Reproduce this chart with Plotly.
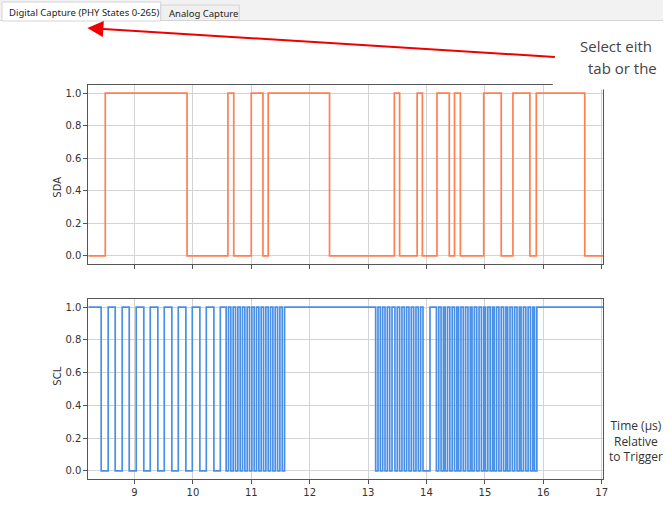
import plotly.graph_objects as go

W, H = 668, 525

# ---------------- data ----------------
X_RANGE = [8.21, 17.03]
X_TICKS = [9, 10, 11, 12, 13, 14, 15, 16, 17]
Y_TICKS = [0.0, 0.2, 0.4, 0.6, 0.8, 1.0]

# SDA: transition times (µs) and level after each transition
SDA_T = [8.21, 8.50, 9.90, 10.60, 10.70, 11.00, 11.20, 11.29, 12.34, 13.45, 13.54,
         13.84, 13.93, 14.18, 14.39, 14.48, 14.58, 14.98, 15.28, 15.48, 15.77,
         15.88, 16.71, 17.03]
SDA_V = [0, 1, 0, 1, 0, 1, 0, 1, 0, 1, 0, 1, 0, 1, 0, 1, 0, 1, 0, 1, 0, 1, 0, 0]

# SCL: low pulses (start, end) in µs
SCL_LOW_START = [8.43, 8.67, 8.91, 9.16, 9.40, 9.64, 9.88, 10.12, 10.36,
                 10.57, 10.65, 10.73, 10.81, 10.89, 10.97, 11.05, 11.13, 11.21, 11.29, 11.37, 11.45, 11.53,
                 13.13, 13.21, 13.29, 13.37, 13.46, 13.54, 13.62, 13.70, 13.78, 13.86, 13.94,
                 14.17, 14.25, 14.32, 14.40, 14.48, 14.55, 14.63, 14.71, 14.78, 14.86, 14.94, 15.01,
                 15.09, 15.16, 15.24, 15.32, 15.39, 15.47, 15.55, 15.62, 15.70, 15.78, 15.85]
SCL_LOW_END = [8.55, 8.79, 9.03, 9.27, 9.51, 9.75, 9.99, 10.23, 10.47,
               10.61, 10.69, 10.77, 10.85, 10.93, 11.01, 11.09, 11.17, 11.25, 11.33, 11.41, 11.49, 11.57,
               13.17, 13.25, 13.33, 13.41, 13.50, 13.58, 13.66, 13.74, 13.82, 13.90, 14.06,
               14.21, 14.29, 14.36, 14.44, 14.52, 14.59, 14.67, 14.75, 14.82, 14.90, 14.98, 15.05,
               15.13, 15.20, 15.28, 15.36, 15.43, 15.51, 15.59, 15.66, 15.74, 15.82, 15.89]

scl_x, scl_y = [X_RANGE[0]], [1]
for s, e in zip(SCL_LOW_START, SCL_LOW_END):
    scl_x += [s, e]
    scl_y += [0, 1]
scl_x.append(X_RANGE[1])
scl_y.append(1)

SDA_COLOR = "#ff7f50"
SCL_COLOR = "#4a8fe6"

# ---------------- helpers (pixel -> paper) ----------------
def px(x):
    return x / W

def py(y):
    return 1 - y / H

fig = go.Figure()
fig.add_trace(go.Scatter(x=SDA_T, y=SDA_V, mode="lines", line_shape="hv",
                         line=dict(color=SDA_COLOR, width=1.7), xaxis="x", yaxis="y",
                         showlegend=False, hoverinfo="skip"))
fig.add_trace(go.Scatter(x=scl_x, y=scl_y, mode="lines", line_shape="hv",
                         line=dict(color=SCL_COLOR, width=1.7), xaxis="x2", yaxis="y2",
                         showlegend=False, hoverinfo="skip"))

tickfont = dict(family="DejaVu Sans", size=10, color="#333333")
axis_common = dict(showline=True, mirror=True, linecolor="#555555", linewidth=1,
                   showgrid=True, gridcolor="#d3d3d3", gridwidth=1,
                   ticks="outside", ticklen=4, tickcolor="#555555", tickwidth=1,
                   zeroline=False, tickfont=tickfont)

xdom = [px(89), px(608)]
fig.update_layout(
    width=W, height=H,
    margin=dict(l=0, r=0, t=0, b=0),
    paper_bgcolor="white", plot_bgcolor="white",
    xaxis=dict(domain=xdom, range=X_RANGE, tickvals=X_TICKS, showticklabels=False,
               anchor="y", **axis_common),
    yaxis=dict(domain=[py(264), py(85)], range=[-0.05, 1.05], tickvals=Y_TICKS,
               tickformat=".1f", anchor="x", **axis_common),
    xaxis2=dict(domain=xdom, range=X_RANGE, tickvals=X_TICKS, matches="x",
                anchor="y2", **axis_common),
    yaxis2=dict(domain=[py(479), py(299)], range=[-0.05, 1.05], tickvals=Y_TICKS,
                tickformat=".1f", anchor="x2", **axis_common),
)

shapes = [
    # top tab strip
    dict(type="rect", xref="paper", yref="paper", x0=0, x1=1, y0=py(21), y1=1,
         fillcolor="#f2f2f2", line=dict(width=0), layer="below"),
    dict(type="line", xref="paper", yref="paper", x0=0, x1=1, y0=py(20.5), y1=py(20.5),
         line=dict(color="#d4d4d4", width=1), layer="below"),
    dict(type="rect", xref="paper", yref="paper", x0=px(2), x1=px(162), y0=py(21), y1=py(2),
         fillcolor="#ffffff", line=dict(color="#d4d4d4", width=1), layer="below"),
    dict(type="rect", xref="paper", yref="paper", x0=px(162), x1=px(241), y0=py(20.5), y1=py(5),
         fillcolor="#f0f0f0", line=dict(color="#d4d4d4", width=1), layer="below"),
    # white callout box covering plot corner
    dict(type="rect", xref="paper", yref="paper", x0=px(557), x1=1, y0=py(89.5), y1=py(22),
         fillcolor="#ffffff", line=dict(width=0), layer="above"),
]
fig.update_layout(shapes=shapes)

ann = [
    dict(text="Digital Capture (PHY States 0-265)", x=px(7), y=py(12), xref="paper", yref="paper",
         xanchor="left", yanchor="middle", showarrow=False,
         font=dict(family="Noto Sans", size=9.5, color="#222222")),
    dict(text="Analog Capture", x=px(168), y=py(13), xref="paper", yref="paper",
         xanchor="left", yanchor="middle", showarrow=False,
         font=dict(family="Noto Sans", size=9.5, color="#222222")),
    dict(text="Select eith", x=px(582), y=py(46), xref="paper", yref="paper",
         xanchor="left", yanchor="middle", showarrow=False,
         font=dict(family="Open Sans", size=15, color="#444444")),
    dict(text="tab or the", x=px(590), y=py(68), xref="paper", yref="paper",
         xanchor="left", yanchor="middle", showarrow=False,
         font=dict(family="Open Sans", size=15, color="#444444")),
    dict(text="", x=px(88), y=py(28), xref="paper", yref="paper",
         ax=557 - 88, ay=57 - 28, axref="pixel", ayref="pixel",
         showarrow=True, arrowhead=2, arrowsize=1.6, arrowwidth=2, arrowcolor="#ee0000"),
    dict(text="SDA", x=px(50), y=py(175), xref="paper", yref="paper", textangle=-90,
         showarrow=False, font=dict(family="DejaVu Sans", size=10, color="#333333")),
    dict(text="SCL", x=px(50), y=py(388), xref="paper", yref="paper", textangle=-90,
         showarrow=False, font=dict(family="DejaVu Sans", size=10, color="#333333")),
    dict(text="Time (µs)<br>Relative<br>to Trigger", x=px(641), y=py(441), xref="paper", yref="paper",
         xanchor="center", yanchor="middle", align="center", showarrow=False,
         font=dict(family="Open Sans", size=12, color="#333333")),
]
fig.update_layout(annotations=ann)

fig.write_html("out.html", config={"displayModeBar": False},
               post_script="document.body.style.margin='0';document.body.style.overflow='hidden';")
